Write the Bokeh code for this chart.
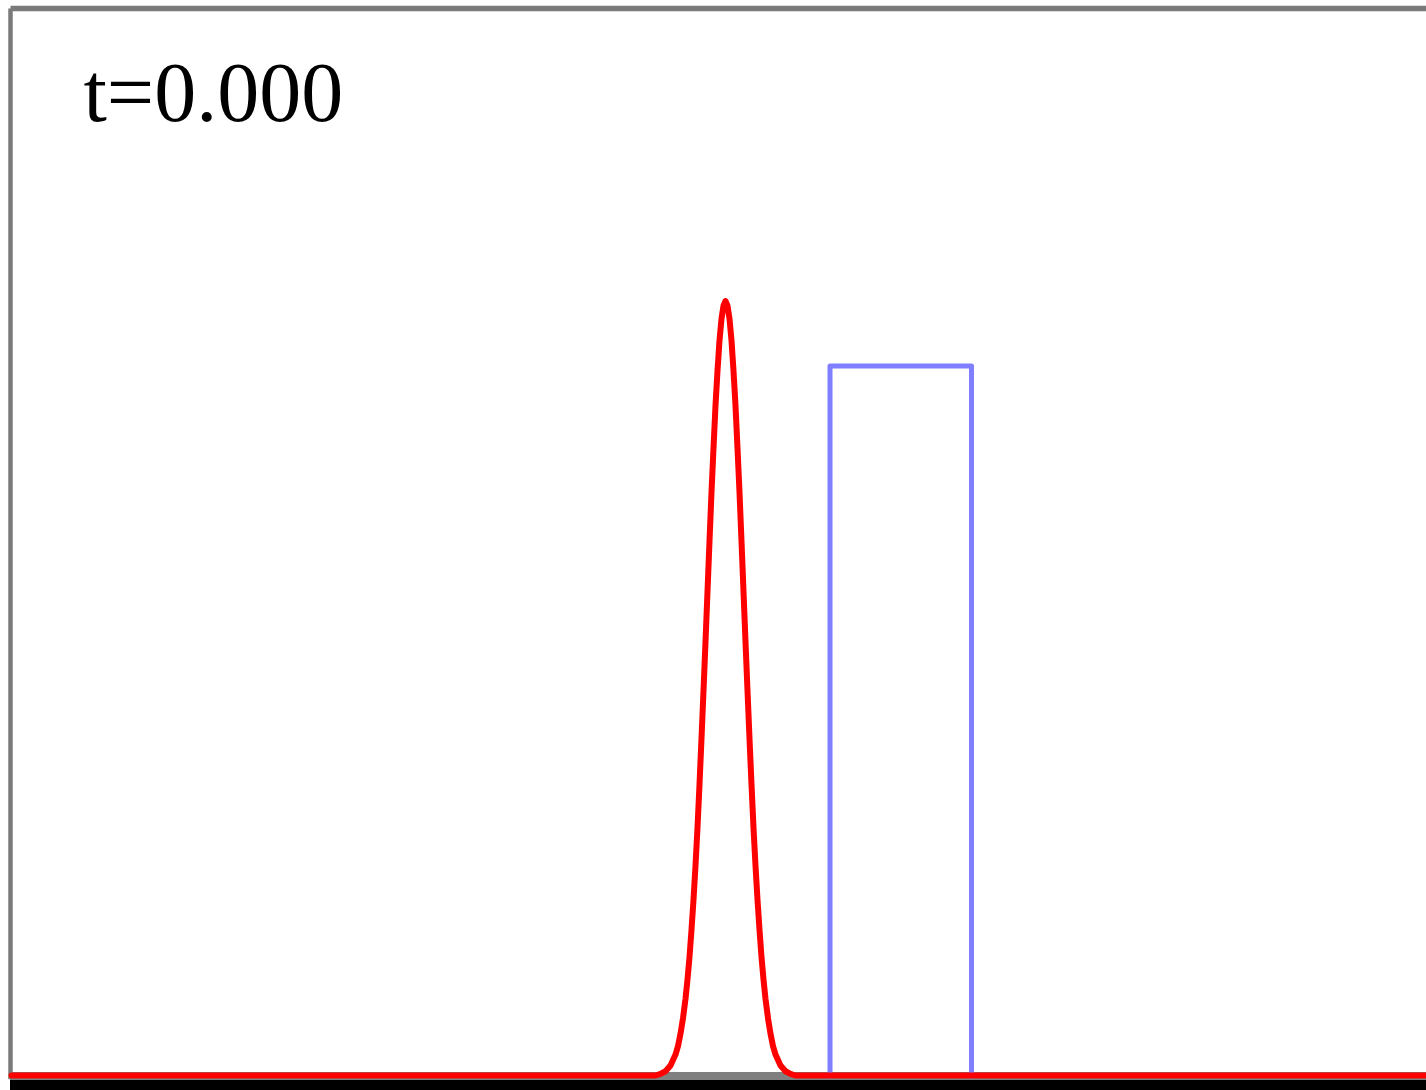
from bokeh.plotting import figure
from bokeh.models import Range1d, ColumnDataSource, BoxAnnotation, Label
from bokeh.embed import file_html
from bokeh.resources import INLINE

# Snapshot of a wave packet approaching a square barrier
time_label = "t=0.000"

# probability density |psi|^2 (normalised to peak 1), read on one flank
# of the symmetric packet as offsets from its centre
packet_center = 71.4
packet_dx = [7.0, 6.5, 6.0, 5.5, 5.0, 4.75, 4.5, 4.25, 4.0, 3.8, 3.6, 3.4,
             3.2, 3.0, 2.8, 2.6, 2.4, 2.2, 2.0, 1.8, 1.6, 1.4, 1.2, 1.0,
             0.8, 0.6, 0.4, 0.2, 0.0]
packet_p = [0.0, 0.002, 0.0055, 0.013, 0.027, 0.038, 0.054, 0.074, 0.099,
            0.124, 0.153, 0.188, 0.227, 0.271, 0.32, 0.376, 0.435, 0.497,
            0.56, 0.625, 0.69, 0.753, 0.81, 0.865, 0.91, 0.949, 0.977,
            0.994, 1.0]
domain_left, domain_right = 0.0, 141.5

# square potential barrier
barrier_left = 81.85
barrier_right = 96.0
barrier_height = 0.916

# full curve: flat zero away from the packet, both flanks mirrored
xs = ([domain_left] + [packet_center - d for d in packet_dx]
      + [packet_center + d for d in reversed(packet_dx[:-1])] + [domain_right])
ys = [0.0] + packet_p + list(reversed(packet_p[:-1])) + [0.0]

W, H = 1426, 1090
y_top = 1.38799
p = figure(width=W, height=H, output_backend="svg", toolbar_location=None,
           x_range=Range1d(-1.1, 141.5), y_range=Range1d(-0.01937, y_top),
           min_border=0, x_axis_type=None, y_axis_type=None,
           background_fill_color="white", border_fill_color="white")
p.outline_line_color = None
p.grid.visible = False

# dark floor strip under the zero line
p.add_layout(BoxAnnotation(left=-0.15, bottom=-0.05, top=-0.0052,
                           fill_color="black", fill_alpha=1.0, line_color=None,
                           level="underlay"))

# zero line
p.segment(x0=[-0.1], y0=[0.0], x1=[145.0], y1=[0.0], line_color="#7f7f7f",
          line_width=7)

# frame edges (left and top)
frame_top = 1.3777
p.segment(x0=[-0.1, -0.1], y0=[-0.005, frame_top], x1=[-0.1, 145.0],
          y1=[frame_top, frame_top], line_color="#7a7a7a", line_width=[4.5, 5.5])

# barrier outline
p.quad(left=[barrier_left], right=[barrier_right], bottom=[0.0],
       top=[barrier_height], fill_color=None, line_color="#7f7fff",
       line_width=5, line_join="round")

src = ColumnDataSource(dict(x=xs, y=ys))
p.line("x", "y", source=src, line_color="#ff0000", line_width=6,
       line_join="round", line_cap="round")

p.add_layout(Label(x=7.2, y=1.2697, text=time_label, text_font="Liberation Serif",
                   text_font_size="84px", text_color="black",
                   text_baseline="alphabetic"))

open("out.html", "w").write(file_html(p, INLINE))
